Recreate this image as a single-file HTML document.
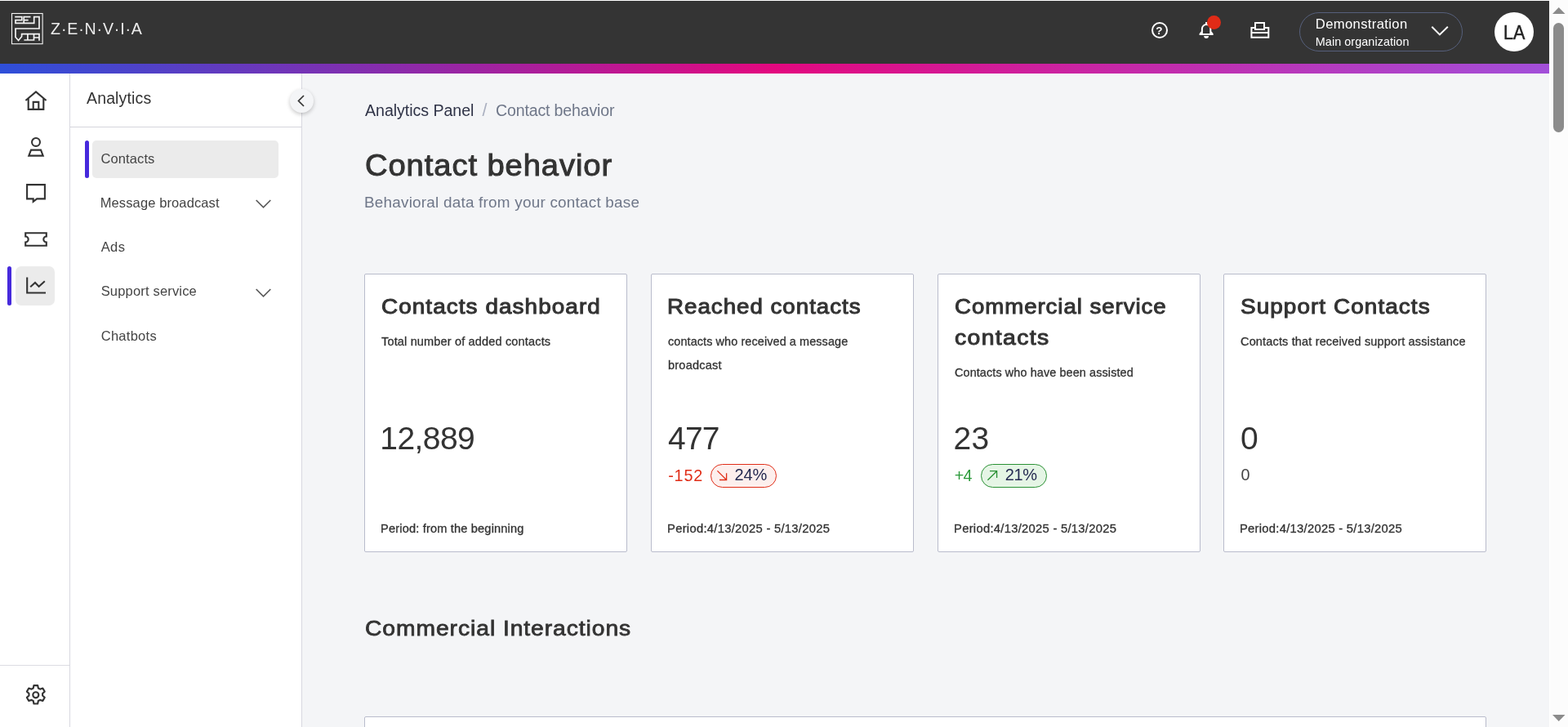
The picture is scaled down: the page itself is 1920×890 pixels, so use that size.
<!DOCTYPE html>
<html lang="en">
<head>
<meta charset="utf-8">
<title>Contact behavior - Zenvia Analytics</title>
<style>
*{box-sizing:border-box;margin:0;padding:0}
html,body{width:1920px;height:890px;overflow:hidden;background:#fff}
body{position:relative;font-family:"Liberation Sans",sans-serif;color:#333}
svg{display:block;position:absolute;overflow:visible}
.t{position:absolute;white-space:nowrap;line-height:1;font-weight:400;transform-origin:0 0}
.b{font-weight:700}

/* top bar */
#topbar{position:absolute;left:0;top:1px;width:1897px;height:77px;background:#343434}
#strip{position:absolute;left:0;top:78px;width:1897px;height:12px;background:linear-gradient(90deg,#2e4fd9 0%,#e3087f 50%,#a24fd9 100%)}
#org{position:absolute;left:1591px;top:15px;width:200px;height:48px;border:1px solid #56607c;border-radius:24px}
#avatar{position:absolute;left:1830px;top:15px;width:48px;height:48px;border-radius:50%;background:#fff}
#badge-dot{position:absolute;left:1478px;top:19px;width:17px;height:17px;border-radius:50%;background:#e02b17}

/* scrollbar */
#sb{position:absolute;left:1898px;top:0;width:22px;height:890px;background:#fcfcfc}
#sb-thumb{position:absolute;left:1902px;top:28px;width:13px;height:134px;border-radius:6.5px;background:#8b8b8b}

/* icon rail */
#rail{position:absolute;left:0;top:90px;width:86px;height:800px;background:#fff;border-right:1px solid #d8d8e0}
#rail-active{position:absolute;left:19px;top:326px;width:48px;height:48px;border-radius:7px;background:#ebebeb}
#rail-bar{position:absolute;left:9px;top:326px;width:5px;height:48px;border-radius:3px;background:#4629dc}
#rail-sep{position:absolute;left:0;top:814px;width:85px;height:1px;background:#dcdce2}

/* secondary nav */
#nav{position:absolute;left:86px;top:90px;width:284px;height:800px;background:#fff;border-right:1px solid #d8d8e0}
#nav-head{position:absolute;left:86px;top:155px;width:283px;height:1px;background:#d4d4dc}
#nav-sel{position:absolute;left:113px;top:172px;width:228px;height:46px;border-radius:5px;background:#ebebeb}
#nav-bar{position:absolute;left:104px;top:172px;width:5px;height:46px;border-radius:3px;background:#4629dc}
.ni{color:#444}
#collapse{position:absolute;left:354.800px;top:109px;width:29px;height:29px;border-radius:50%;background:#f4f5f7;box-shadow:0 2px 5px rgba(0,0,0,.22)}

/* main */
#main{position:absolute;left:370px;top:90px;width:1527px;height:800px;background:#f4f5f7}
.card{position:absolute;top:335px;width:322px;height:341px;background:#fff;border:1px solid #b9bccc;border-radius:2px}
.card .t{color:#333}
.pill{position:absolute;top:232px;width:81px;height:29px;border-radius:15px;border:1px solid}
.card .red{color:#e02d17}.card .green{color:#2b9a3a}
.pill.r{border-color:#e02d17;background:#fdefed}
.pill.g{border-color:#2a9134;background:#e5f5e5}
.card .pct{color:#262b52}
#card5{position:absolute;left:446px;top:877px;width:1374px;height:40px;background:#fff;border:1px solid #b9bccc;border-radius:2px}
</style>
</head>
<body>
<div id="main"></div>

<header id="topbar"></header>
<div id="strip"></div>
<svg id="logo" style="left:14px;top:16px" width="39" height="38" viewBox="0 0 39 38" fill="none" stroke="#f4f4f4" stroke-width="1.7" stroke-linejoin="miter">
  <rect x=".5" y=".5" width="37.6" height="37.2" stroke-width="1.1"/>
  <path d="M4.200 4.700H12.800V8.600H5V12.300H27.700V4.700H34V19H5V29.500L8.600 33.500 12.600 28.800V25.700H34V33.700"/>
  <path d="M23.500 4.700H15.200V12.300M15.200 8.600H20.700M19.900 25.700V33M15.400 33H27.500V25.700M27.500 30H34"/>
</svg>
<div class="t" style="left:62.10px;top:26px;font-size:19.6px;letter-spacing:0.838px;color:#ececec">Z·E·N·V·I·A</div>

<svg id="ic-help" style="left:1409.600px;top:26.900px" width="20" height="20" viewBox="0 0 20 20" fill="none" stroke="#fff" stroke-width="2">
  <circle cx="10" cy="10" r="9"/>
</svg>
<div class="t b" style="left:1415.300px;top:30.600px;font-size:13.500px;color:#fff">?</div>
<svg id="ic-bell" style="left:1467px;top:26px" width="20" height="22" viewBox="0 0 20 22" fill="none" stroke="#fff" stroke-width="2" stroke-linejoin="round">
  <path d="M10.100 1v3M1.600 16h17M4.900 15.500V9.300a5.200 5.200 0 0 1 10.400 0v6.200M4.900 12.500L2.300 15.800M15.300 12.500l2.600 3.300"/>
  <path d="M7.200 18h5.800a2.900 2.900 0 0 1-5.800 0z" fill="#fff" stroke="none"/>
</svg>
<div id="badge-dot"></div>
<svg id="ic-print" style="left:1531px;top:26px" width="24" height="22" viewBox="0 0 24 22" fill="none" stroke="#fff" stroke-width="2">
  <rect x="1.400" y="8" width="20.900" height="11.800"/>
  <path d="M1.400 14h20.900"/>
  <rect x="6" y="2" width="11" height="8" fill="#343434"/>
</svg>
<div id="org"></div>
<div class="t" style="left:1610.80px;top:22px;font-size:16.6px;letter-spacing:0.368px;color:#fff">Demonstration</div>
<div class="t" style="left:1610.80px;top:44px;font-size:14.4px;letter-spacing:0.063px;color:#fff">Main organization</div>
<svg style="left:1752px;top:31px" width="22" height="13" viewBox="0 0 22 13" fill="none" stroke="#fff" stroke-width="2"><path d="M1.300 1.700l9.600 9.700 9.900-9.700"/></svg>
<div id="avatar"></div>
<div class="t" style="left:1840.53px;top:28px;font-size:24.2px;transform:scaleX(0.8881);-webkit-text-stroke:0.5px;color:#222">LA</div>

<div id="sb"></div>
<div id="sb-thumb"></div>
<svg style="left:1901px;top:9px" width="16" height="8" viewBox="0 0 16 8"><path d="M0 8L7.700 0l7.800 8z" fill="#8b8b8b"/></svg>
<svg style="left:1901px;top:875px" width="16" height="8" viewBox="0 0 16 8"><path d="M0 0h15.500L7.700 8z" fill="#8b8b8b"/></svg>

<nav id="rail"></nav>
<div id="rail-active"></div>
<div id="rail-bar"></div>
<div id="rail-sep"></div>
<svg id="ic-home" style="left:31px;top:111px" width="26" height="24" viewBox="0 0 26 24" fill="none" stroke="#333" stroke-width="2.100">
  <path d="M.4 12L13 1.400 25.600 12M3.700 9.500v13.400h18.600V9.500M9.700 22.900v-9h6.600v9"/>
</svg>
<svg id="ic-user" style="left:33px;top:168px" width="22" height="24" viewBox="0 0 22 24" fill="none" stroke="#333" stroke-width="2.100">
  <circle cx="11" cy="5.900" r="4.950"/><path d="M5 15.600h12l2.700 7H2.300z"/>
</svg>
<svg id="ic-chat" style="left:32px;top:225px" width="24" height="24" viewBox="0 0 24 24" fill="none" stroke="#333" stroke-width="2.100">
  <path d="M1.100 1.100h21.800v17.300H13.200l-4.500 3.400v-3.400H1.100z"/>
</svg>
<svg id="ic-ticket" style="left:30px;top:284px" width="28" height="18" viewBox="0 0 28 18" fill="none" stroke="#333" stroke-width="2.100">
  <path d="M1.200 1.200h25.600v4.300a3.500 3.500 0 0 0 0 7v4.300H1.200v-4.300a3.500 3.500 0 0 0 0-7z"/>
</svg>
<svg id="ic-chart" style="left:32px;top:339px" width="24" height="22" viewBox="0 0 24 22" fill="none" stroke="#333" stroke-width="2.100">
  <path d="M1.200.4v19.100H24M5.200 12.300l5.800-5.300 4.600 4.700 7.200-6.400"/>
</svg>
<svg id="ic-gear" style="left:31.200px;top:838.200px" width="25.600" height="25.600" viewBox="0 0 24 24" fill="none" stroke="#333" stroke-width="2" stroke-linejoin="round">
  <circle cx="12" cy="12" r="3.300"/>
  <path d="M9.800 1h4.400l.7 3.200 2 1.100 3.100-1 2.200 3.800-2.400 2.200v2.400l2.400 2.200-2.200 3.800-3.100-1-2 1.100-.7 3.200H9.800l-.7-3.200-2-1.100-3.100 1-2.200-3.800 2.400-2.200v-2.400L1.800 8.100 4 4.300l3.100 1 2-1.100z"/>
</svg>

<aside id="nav"></aside>
<div id="nav-head"></div>
<div class="t" style="left:106.00px;top:111px;font-size:19.5px;letter-spacing:0.14px;color:#333">Analytics</div>
<div id="nav-sel"></div>
<div id="nav-bar"></div>
<div class="t ni" style="left:123.40px;top:186px;font-size:16.5px;letter-spacing:0.119px">Contacts</div>
<div class="t ni" style="left:122.70px;top:240px;font-size:16.5px;letter-spacing:0.118px">Message broadcast</div>
<div class="t ni" style="left:123.70px;top:294px;font-size:16.5px;letter-spacing:0.409px">Ads</div>
<div class="t ni" style="left:123.70px;top:348px;font-size:16.5px;letter-spacing:0.174px">Support service</div>
<div class="t ni" style="left:123.70px;top:403px;font-size:16.5px;letter-spacing:0.273px">Chatbots</div>
<svg style="left:313px;top:244.400px" width="19" height="11" viewBox="0 0 19 11" fill="none" stroke="#5a5a5a" stroke-width="1.700"><path d="M.7 1l8.800 8.900L18.300 1"/></svg>
<svg style="left:313px;top:353.400px" width="19" height="11" viewBox="0 0 19 11" fill="none" stroke="#5a5a5a" stroke-width="1.700"><path d="M.7 1l8.800 8.900L18.300 1"/></svg>
<div id="collapse"></div>
<svg style="left:364px;top:116px" width="9" height="15" viewBox="0 0 9 15" fill="none" stroke="#333" stroke-width="1.7"><path d="M8 1L1.500 7.500 8 14"/></svg>

<div class="t" style="left:447.10px;top:126px;font-size:19.6px;letter-spacing:-0.051px;color:#2f3347">Analytics Panel</div>
<div class="t" style="left:590.600px;top:125px;font-size:21.500px;color:#aab0c0">/</div>
<div class="t" style="left:607.00px;top:126px;font-size:19.6px;letter-spacing:-0.174px;color:#6f7789">Contact behavior</div>
<h1 class="t" style="left:447.18px;top:185px;font-size:36.4px;letter-spacing:0.861px;transform:scaleX(1.0493);-webkit-text-stroke:1.0px;color:#333">Contact behavior</h1>
<div class="t" style="left:446.00px;top:239px;font-size:18.9px;letter-spacing:0.225px;color:#6f7789">Behavioral data from your contact base</div>

<section class="card" style="left:446px">
  <div class="t" style="left:20.36px;top:27px;font-size:25.8px;letter-spacing:1.001px;transform:scaleX(1.0801);-webkit-text-stroke:1.0px">Contacts dashboard</div>
  <div class="t" style="left:19.95px;top:75px;font-size:14.2px;letter-spacing:0.154px;transform:scaleX(1.023);-webkit-text-stroke:0.3px">Total number of added contacts</div>
  <div class="t" style="left:18.30px;top:181px;font-size:39.0px;letter-spacing:-0.579px">12,889</div>
  <div class="t" style="left:18.53px;top:304px;font-size:14.2px;letter-spacing:0.175px;transform:scaleX(1.0272);-webkit-text-stroke:0.3px">Period: from the beginning</div>
</section>
<section class="card" style="left:797px">
  <div class="t" style="left:19.29px;top:27px;font-size:25.8px;letter-spacing:0.932px;transform:scaleX(1.0733);-webkit-text-stroke:1.0px">Reached contacts</div>
  <div class="t" style="left:19.55px;top:75px;font-size:14.2px;letter-spacing:0.106px;transform:scaleX(1.0151);-webkit-text-stroke:0.3px">contacts who received a message</div>
  <div class="t" style="left:19.55px;top:104px;font-size:14.2px;letter-spacing:0.197px;transform:scaleX(1.0258);-webkit-text-stroke:0.3px">broadcast</div>
  <div class="t" style="left:20.00px;top:181px;font-size:39.0px;letter-spacing:-0.79px">477</div>
  <div class="t red" style="left:20.20px;top:237px;font-size:19.8px;letter-spacing:0.803px">-152</div>
  <div class="pill r" style="left:72px">
    <svg style="left:6.500px;top:7.200px" width="12.200" height="12.200" viewBox="0 0 12.200 12.200" fill="none" stroke="#e02d17" stroke-width="1.300"><path d="M.4.400l11.200 11.100M11.600 3.300v8.200H3"/></svg>
  </div>
  <div class="t pct" style="left:101.50px;top:235px;font-size:20.0px;letter-spacing:-0.173px">24%</div>
  <div class="t" style="left:18.51px;top:304px;font-size:14.2px;letter-spacing:0.269px;transform:scaleX(1.0412);-webkit-text-stroke:0.3px">Period:4/13/2025 - 5/13/2025</div>
</section>
<section class="card" style="left:1148px">
  <div class="t" style="left:19.96px;top:27px;font-size:25.8px;letter-spacing:0.883px;transform:scaleX(1.0711);-webkit-text-stroke:1.0px">Commercial service</div>
  <div class="t" style="left:19.95px;top:65px;font-size:25.8px;letter-spacing:1.23px;transform:scaleX(1.0994);-webkit-text-stroke:1.0px">contacts</div>
  <div class="t" style="left:19.75px;top:113px;font-size:14.2px;letter-spacing:0.107px;transform:scaleX(1.0154);-webkit-text-stroke:0.3px">Contacts who have been assisted</div>
  <div class="t" style="left:18.60px;top:181px;font-size:39.0px;letter-spacing:0.11px">23</div>
  <div class="t green" style="left:19.75px;top:237px;font-size:19.8px;letter-spacing:-0.702px">+4</div>
  <div class="pill g" style="left:52px">
    <svg style="left:6.500px;top:7.200px" width="12.200" height="12.200" viewBox="0 0 12.200 12.200" fill="none" stroke="#2a9134" stroke-width="1.300"><path d="M.4 11.800L11.600.7M3 .7h8.600v8.200"/></svg>
  </div>
  <div class="t pct" style="left:81.80px;top:235px;font-size:20.0px;letter-spacing:-0.373px">21%</div>
  <div class="t" style="left:18.51px;top:304px;font-size:14.2px;letter-spacing:0.269px;transform:scaleX(1.0412);-webkit-text-stroke:0.3px">Period:4/13/2025 - 5/13/2025</div>
</section>
<section class="card" style="left:1498px">
  <div class="t" style="left:19.96px;top:27px;font-size:25.8px;letter-spacing:0.992px;transform:scaleX(1.0811);-webkit-text-stroke:1.0px">Support Contacts</div>
  <div class="t" style="left:20.25px;top:75px;font-size:14.2px;letter-spacing:0.148px;transform:scaleX(1.0229);-webkit-text-stroke:0.3px">Contacts that received support assistance</div>
  <div class="t" style="left:19.90px;top:181px;font-size:39.0px">0</div>
  <div class="t" style="left:20.50px;top:236px;font-size:19.8px;color:#444">0</div>
  <div class="t" style="left:19.02px;top:304px;font-size:14.2px;letter-spacing:0.265px;transform:scaleX(1.0407);-webkit-text-stroke:0.3px">Period:4/13/2025 - 5/13/2025</div>
</section>

<h2 class="t" style="left:447.36px;top:756px;font-size:26.4px;letter-spacing:0.863px;transform:scaleX(1.0716);-webkit-text-stroke:0.8px;color:#333">Commercial Interactions</h2>
<div id="card5"></div>
</body>
</html>
